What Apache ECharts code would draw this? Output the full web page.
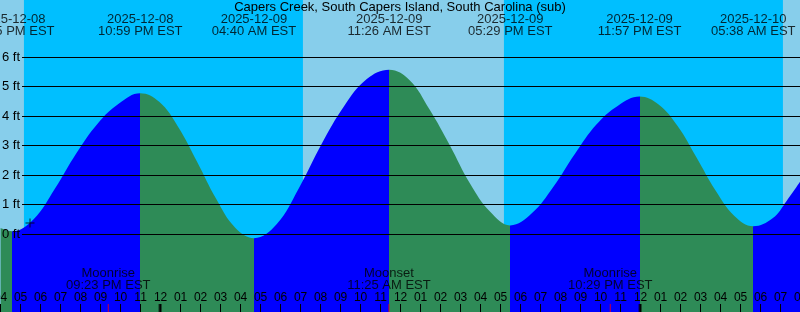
<!DOCTYPE html>
<html><head><meta charset="utf-8">
<script src="https://cdn.jsdelivr.net/npm/echarts@6/dist/echarts.min.js"></script>
<style>html,body{margin:0;padding:0;background:#87CEEB}#c{width:800px;height:312px}</style>
</head><body><div id="c"></div>
<script>
// ---------- data ----------
const titleText = 'Capers Creek, South Capers Island, South Carolina (sub)';
const tideDates = ['2025-12-08', '2025-12-08', '2025-12-09', '2025-12-09', '2025-12-09', '2025-12-09', '2025-12-10'];
const tideTimes = ['04:35 PM EST', '10:59 PM EST', '04:40 AM EST', '11:26 AM EST', '05:29 PM EST', '11:57 PM EST', '05:38 AM EST'];
const tideKinds = ['low', 'high', 'low', 'high', 'low', 'high', 'low'];
const moonNames = ['Moonrise', 'Moonset', 'Moonrise'];
const moonDates = ['2025-12-08', '2025-12-09', '2025-12-09'];
const moonTimes = ['09:23 PM EST', '11:25 AM EST', '10:29 PM EST'];
const nightStartDates = ['2025-12-08', '2025-12-09'];
const nightStartTimes = ['05:10 PM EST', '05:10 PM EST'];
const nightEndDates = ['2025-12-09', '2025-12-10'];
const nightEndTimes = ['07:07 AM EST', '07:07 AM EST'];
const midnightDates = ['2025-12-09', '2025-12-10'];
const levelTicks = [0, 1, 2, 3, 4, 5, 6];
// curve samples: hours since 2025-12-08 00:00 EST, height in feet
const curveHours = [16.0, 16.58, 17.65, 18.72, 19.78, 20.85, 21.92, 22.98, 23.93, 24.88, 25.83, 26.77, 27.72, 28.67, 29.8, 30.92, 32.05, 33.18, 34.31, 35.43, 36.44, 37.45, 38.46, 39.47, 40.48, 41.48, 42.56, 43.64, 44.72, 45.79, 46.87, 47.95, 48.9, 49.85, 50.79, 51.74, 52.69, 53.63, 54.6, 55.3, 56.0];
const curveFeet = [0.2, 0.09, 0.5, 1.54, 2.73, 3.74, 4.42, 4.77, 4.48, 3.63, 2.44, 1.2, 0.22, -0.14, 0.33, 1.56, 3.05, 4.34, 5.25, 5.57, 5.22, 4.22, 3.01, 1.71, 0.75, 0.29, 0.7, 1.6, 2.72, 3.71, 4.35, 4.66, 4.39, 3.66, 2.6, 1.48, 0.61, 0.26, 0.53, 1.12, 1.8];
const nowHours = [17.47];
const nowFeet = [0.37];

// ---------- helpers ----------
function toHours(date, time) {
  const [y, m, d] = date.split('-').map(Number);
  const dayOff = (Date.UTC(y, m - 1, d) - Date.UTC(2025, 11, 8)) / 36e5;
  const mt = time.match(/(\d+):(\d+)\s*(AM|PM)/);
  let h = Number(mt[1]) % 12;
  if (mt[3] === 'PM') h += 12;
  return dayOff + h + Number(mt[2]) / 60;
}
const X_MIN = 16, X_MAX = 56;
const Y_MIN = -2.644, Y_MAX = 7.932;
const FONT = 'Liberation Sans';
const DAY = '#87CEEB', NIGHT = '#00BFFF', RISE = '#0000FF', FALL = '#2E8B57';

const tideH = tideDates.map((d, i) => toHours(d, tideTimes[i]));
const moonH = moonDates.map((d, i) => toHours(d, moonTimes[i]));
const nights = nightStartDates.map((d, i) => [toHours(d, nightStartTimes[i]), toHours(nightEndDates[i], nightEndTimes[i])]);
const midnights = midnightDates.map(d => toHours(d, '12:00 AM'));

// pieces: rising after low, falling after high
const pieces = [];
pieces.push({gte: 0, lt: tideH[0], color: tideKinds[0] === 'low' ? FALL : RISE});
for (let i = 0; i < tideH.length; i++) {
  const next = i + 1 < tideH.length ? tideH[i + 1] : 1000;
  pieces.push({gte: tideH[i], lt: next, color: tideKinds[i] === 'low' ? RISE : FALL});
}

const chart = echarts.init(document.getElementById('c'), null, {renderer: 'canvas'});
chart.setOption({
  animation: false,
  backgroundColor: DAY,
  textStyle: {fontFamily: FONT},
  title: {
    text: titleText, left: 'center', top: 1, padding: 0,
    textStyle: {fontSize: 13, fontWeight: 'normal', color: '#000', fontFamily: FONT}
  },
  grid: [
    {left: 0.6, right: -0.6, top: 0, bottom: 0, containLabel: false, outerBoundsMode: 'none'},
    {left: 22, right: 0, top: 57, bottom: 78, containLabel: false, outerBoundsMode: 'none'}
  ],
  xAxis: [
    {
      type: 'value', gridIndex: 0, min: X_MIN, max: X_MAX, interval: 1,
      axisLine: {show: false, onZero: false},
      splitLine: {show: false},
      axisTick: {show: true, inside: true, length: 8, lineStyle: {color: '#000', width: 1}},
      axisLabel: {
        show: true, inside: true, margin: 8.5, fontSize: 12, color: '#000', fontFamily: FONT,
        showMinLabel: true, showMaxLabel: true, hideOverlap: false,
        formatter: v => { let h = ((Math.round(v) % 12) + 12) % 12; if (h === 0) h = 12; return (h < 10 ? '0' : '') + h; }
      },
      z: 4
    },
    {type: 'value', gridIndex: 1, min: X_MIN, max: X_MAX, show: false, axisLine: {onZero: false}}
  ],
  yAxis: [
    {type: 'value', gridIndex: 0, min: Y_MIN, max: Y_MAX, show: false, axisLine: {onZero: false}},
    {
      type: 'value', gridIndex: 1, min: levelTicks[0], max: levelTicks[levelTicks.length - 1], interval: 1,
      axisLine: {show: false, onZero: false}, axisTick: {show: false},
      splitLine: {show: true, lineStyle: {color: '#000', width: 1}},
      axisLabel: {show: true, margin: 2, fontSize: 13, color: '#000', fontFamily: FONT, formatter: '{value} ft'},
      z: 5
    }
  ],
  visualMap: {
    type: 'piecewise', show: false, dimension: 0, seriesIndex: 0, pieces: pieces
  },
  series: [
    {
      type: 'line', xAxisIndex: 0, yAxisIndex: 0, z: 2,
      data: curveHours.map((h, i) => [h, curveFeet[i]]),
      smooth: 0.4, symbol: 'none', showSymbol: false,
      lineStyle: {width: 0},
      areaStyle: {opacity: 1, origin: 'start'},
      markArea: {
        silent: true, z: 1,
        itemStyle: {color: NIGHT},
        data: nights.map(n => [{xAxis: n[0]}, {xAxis: n[1]}])
      }
    },
    {
      type: 'scatter', xAxisIndex: 0, yAxisIndex: 0, z: 6, clip: false,
      data: nowHours.map((h, i) => [h, nowFeet[i]]),
      symbol: 'path://M4,0h1v4h4v1h-4v4h-1v-4h-4v-1h4z', symbolSize: 9,
      itemStyle: {color: '#000'}
    },
    {
      type: 'scatter', xAxisIndex: 0, yAxisIndex: 0, z: 6, clip: false,
      data: tideH.map((h, i) => ({value: [h, Y_MAX], name: tideDates[i] + '\n' + tideTimes[i]})),
      symbolSize: 0,
      label: {show: true, position: 'inside', offset: [0, 25.4], formatter: p => p.name,
        fontSize: 13, lineHeight: 12, color: '#000', fontFamily: FONT, align: 'center'}
    },
    {
      type: 'scatter', xAxisIndex: 0, yAxisIndex: 0, z: 6, clip: false,
      data: moonH.map((h, i) => ({value: [h, Y_MIN], name: moonNames[i] + '\n' + moonTimes[i]})),
      symbolSize: 0,
      label: {show: true, position: 'inside', offset: [0, -32.5], formatter: p => p.name,
        fontSize: 13, lineHeight: 12, color: '#000', fontFamily: FONT, align: 'center'}
    },
    {
      type: 'scatter', xAxisIndex: 0, yAxisIndex: 0, z: 6, clip: false,
      data: midnights.map(h => [h, Y_MIN]),
      symbol: 'rect', symbolSize: [3, 8], symbolOffset: [-0.5, -4],
      itemStyle: {color: '#000'}
    },
    {
      type: 'scatter', xAxisIndex: 0, yAxisIndex: 0, z: 6, clip: false,
      data: moonH.map(h => [h, Y_MIN]),
      symbol: 'rect', symbolSize: [1, 8], symbolOffset: [0, -4],
      itemStyle: {color: '#FF0000'}
    }
  ]
});
</script>
</body></html>
